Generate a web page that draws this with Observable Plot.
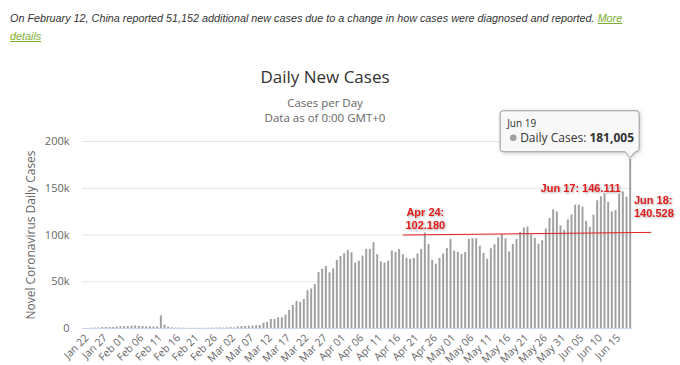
<!DOCTYPE html>
<html><head><meta charset="utf-8">
<script src="https://cdn.jsdelivr.net/npm/d3@7"></script>
<script src="https://cdn.jsdelivr.net/npm/@observablehq/plot@0.6"></script>
<style>
body{margin:0;background:#fff;width:680px;height:365px;position:relative;overflow:hidden;font-family:"Open Sans",sans-serif}
#note{position:absolute;left:10px;top:9px;font:italic 10.8px "Liberation Sans",Arial,sans-serif;color:#333;line-height:18px;white-space:nowrap}
#note a{color:#7cae2f;text-decoration:underline}
#chart{position:absolute;left:0;top:95px}
#title{position:absolute;left:0;width:650px;top:65px;text-align:center;font-size:17px;color:#333}
#sub{position:absolute;left:0;width:650px;top:95px;text-align:center;font-size:11.5px;color:#666;line-height:15px}
</style></head>
<body>
<div id="note">On February 12, China reported 51,152 additional new cases due to a change in how cases were diagnosed and reported. <a href="#">More<br>details</a></div>
<div id="chart"></div>
<div id="title">Daily New Cases</div>
<div id="sub">Cases per Day<br>Data as of 0:00 GMT+0</div>
<script>
// ---- data ----
const startDate = "2020-01-22";
const dailyCases = [
  0, 100, 300, 500, 700, 1000, 1100, 1100, 1200, 1500,
  2000, 2000, 2100, 2600, 2700, 2300, 2200, 1700, 2000, 1600,
  1800, 13500, 3600, 1600, 800, 500, 400, 400, 200, 200,
  250, 200, 200, 250, 250, 300, 500, 600, 500, 700,
  1000, 700, 1700, 2100, 2200, 2500, 2600, 3000, 3200, 5700,
  6500, 9700, 9700, 11500, 11500, 14300, 19400, 24700, 29000, 28000,
  31000, 40500, 42300, 47000, 60000, 63400, 66300, 59500, 63800, 72800,
  77000, 80000, 83500, 81000, 70000, 72000, 77400, 84600, 84600, 91800,
  79000, 71300, 70000, 72000, 82800, 81400, 84600, 79200, 75000, 73800,
  75000, 79600, 84600, 102180, 90000, 73000, 68800, 75000, 79600, 85700,
  95300, 82800, 81400, 79200, 81400, 95300, 96000, 96000, 88000, 80200,
  74000, 85300, 89500, 97000, 100500, 96000, 81800, 89800, 95300, 102900,
  107500, 108600, 100000, 96400, 90300, 93900, 106500, 117600, 126900, 124700,
  109700, 105000, 116100, 121500, 131900, 131900, 129700, 114700, 108200, 121100,
  136600, 140900, 144100, 134800, 124700, 126200, 143400, 146111, 140528, 181005
];
const xTickLabels = ["Jan 22","Jan 27","Feb 01","Feb 06","Feb 11","Feb 16","Feb 21","Feb 26",
  "Mar 02","Mar 07","Mar 12","Mar 17","Mar 22","Mar 27","Apr 01","Apr 06","Apr 11","Apr 16",
  "Apr 21","Apr 26","May 01","May 06","May 11","May 16","May 21","May 26","May 31","Jun 05",
  "Jun 10","Jun 15"];
const xTickIndex = xTickLabels.map((_, i) => i * 5);
const yTicks = [0, 50000, 100000, 150000, 200000];
const yTickLabels = ["0", "50k", "100k", "150k", "200k"];
const yLabel = "Novel Coronavirus Daily Cases";
// annotations: day index, value, text
const noteDays = [93, 146, 148];
const noteTexts = ["Apr 24:\n102.180", "Jun 17: 146.111", "Jun 18:\n140.528"];
const refLineDays = [87, 154.5];
const refLineValues = [100000, 102800];
const tipDay = 149;
const tipDate = "Jun 19";
const tipValue = 181005;

// ---- build ----
const DAY = 864e5;
const t0 = Date.parse(startDate + "T00:00:00Z");
const dayDate = i => new Date(t0 + i * DAY);
const mid = i => new Date(t0 + (i + 0.5) * DAY);
const data = dailyCases.map((v, i) => ({date: dayDate(i), end: dayDate(i + 1), value: v}));
const notes = noteDays.map((d, i) => ({date: mid(d), value: dailyCases[d], text: noteTexts[i]}));
const refLine = refLineDays.map((d, i) => ({date: mid(d), value: refLineValues[i]}));
const RED = "#e41e1e";

const plot = Plot.plot({
  width: 680, height: 270,
  marginLeft: 82, marginRight: 48, marginTop: 46, marginBottom: 37,
  style: {background: "transparent", fontFamily: "'Open Sans', sans-serif", overflow: "visible"},
  x: {type: "utc", domain: [dayDate(0), dayDate(dailyCases.length)], axis: null},
  y: {domain: [0, 200000], axis: null},
  marks: [
    Plot.ruleY(yTicks.slice(1), {stroke: "#e6e6e6"}),
    Plot.rectY(data, {x1: "date", x2: "end", y: "value", fill: "#a0a0a0", insetLeft: 0.85, insetRight: 0.85}),
    Plot.ruleY([0], {stroke: "#ccd6eb"}),
    Plot.line(refLine, {x: "date", y: "value", stroke: RED, strokeWidth: 1}),
    Plot.text(yTicks, {y: d => d, text: (d, i) => yTickLabels[i], frameAnchor: "left", textAnchor: "end", dx: -13, fill: "#666", fontSize: 11}),
    Plot.text([yLabel], {frameAnchor: "left", textAnchor: "middle", rotate: -90, dx: -51, fill: "#666", fontSize: 12}),
    Plot.text(xTickIndex, {x: d => mid(d), text: (d, i) => xTickLabels[i], frameAnchor: "bottom", rotate: -45, textAnchor: "end", dx: 5, dy: 10, fill: "#666", fontSize: 10.5}),
    Plot.text([notes[0]], {x: "date", y: "value", text: "text", textAnchor: "middle", lineAnchor: "bottom", dy: -4, fill: RED, fontWeight: "bold", fontSize: 11, lineHeight: 1.15, fontFamily: "Arial, 'Liberation Sans', sans-serif"}),
    Plot.text([notes[1]], {x: "date", y: "value", text: "text", textAnchor: "end", lineAnchor: "bottom", dy: -2, dx: 1, fill: RED, fontWeight: "bold", fontSize: 11, fontFamily: "Arial, 'Liberation Sans', sans-serif"}),
    Plot.text([notes[2]], {x: "date", y: "value", text: "text", textAnchor: "start", lineAnchor: "top", dy: -2, dx: 7, fill: RED, fontWeight: "bold", fontSize: 11, lineHeight: 1.15, fontFamily: "Arial, 'Liberation Sans', sans-serif"})
  ]
});
document.getElementById("chart").appendChild(plot);

// red text shadow
d3.select(plot).selectAll(`g[fill="${RED}"]`).style("filter", "drop-shadow(1px 1px 1px rgba(0,0,0,0.35))");

// tooltip anchored with the plot's own scales
const ax = plot.scale("x").apply(mid(tipDay));
const ay = plot.scale("y").apply(tipValue);
const svg = d3.select(plot);
const tip = svg.append("g").attr("transform", `translate(${ax},${ay})`).attr("text-anchor", "start");
tip.append("path")
  .attr("d", `M-127,-48 H6 Q9,-48 9,-45 V-10 Q9,-7 6,-7 H5 L0,-1 L-5,-7 H-127 Q-130,-7 -130,-10 V-45 Q-130,-48 -127,-48 Z`)
  .attr("fill", "rgba(250,250,250,0.95)").attr("stroke", "#999").attr("stroke-width", 1)
  .style("filter", "drop-shadow(1px 1px 2px rgba(0,0,0,0.2))");
tip.append("text").attr("x", -123).attr("y", -35).attr("dy", "0.35em").attr("text-anchor", "start")
  .attr("font-size", 10).attr("fill", "#333").text(tipDate);
tip.append("circle").attr("cx", -117).attr("cy", -21).attr("r", 3.3).attr("fill", "#a0a0a0");
const tt = tip.append("text").attr("x", -110).attr("y", -21).attr("dy", "0.35em").attr("text-anchor", "start")
  .attr("font-size", 12).attr("fill", "#333");
tt.append("tspan").text("Daily Cases: ");
tt.append("tspan").attr("font-weight", "bold").text(d3.format(",")(tipValue));
</script>
</body></html>
